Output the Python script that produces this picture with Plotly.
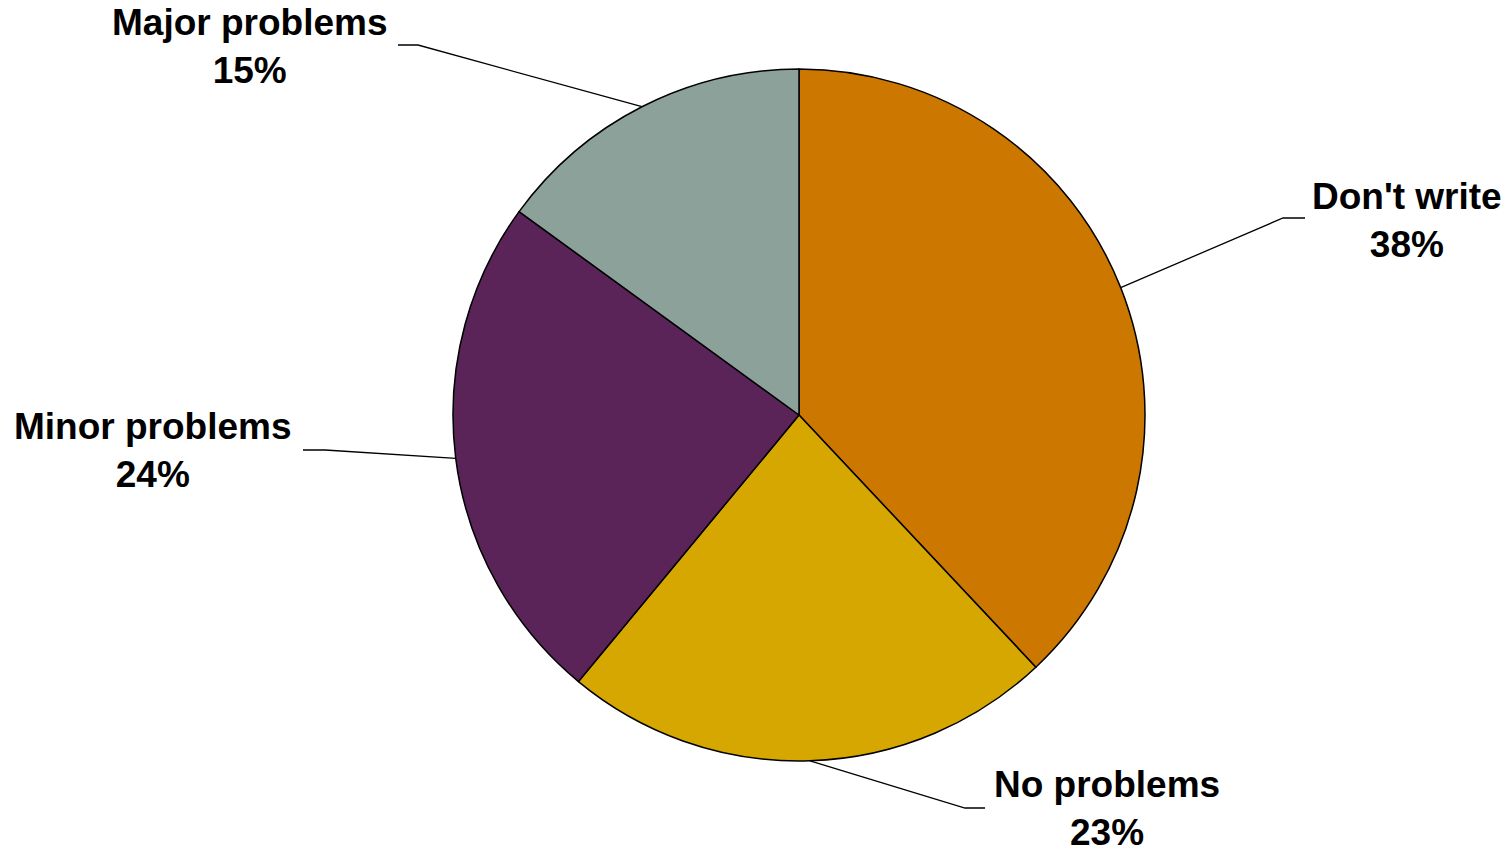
import math
import plotly.graph_objects as go

# Survey responses
categories = ["Don't write", "No problems", "Minor problems", "Major problems"]
shares = [38, 23, 24, 15]
colors = ["#CC7700", "#D5A700", "#5B2459", "#8BA19A"]

W, H = 1506, 848
cx, cy, r = 799, 415, 346  # pie centre and radius in pixels

# Label placement: (text centre x, text centre y, elbow x, elbow end x, elbow y)
label_pos = {
    "Don't write": (1407, 220, 1283, 1305, 218),
    "No problems": (1107, 808, 965, 985, 808),
    "Minor problems": (153, 450, 325, 303, 450),
    "Major problems": (250, 46, 418, 398, 45),
}

fig = go.Figure()
fig.add_trace(go.Pie(
    labels=categories, values=shares, sort=False, direction="clockwise",
    rotation=0, textinfo="none", hoverinfo="label+percent",
    marker=dict(colors=colors, line=dict(color="black", width=1.5)),
    domain=dict(x=[(cx - r) / W, (cx + r) / W],
                y=[(H - cy - r) / H, (H - cy + r) / H]),
    showlegend=False,
))

total = sum(shares)
cum = 0
for cat, v in zip(categories, shares):
    mid = (cum + v / 2) / total * 2 * math.pi
    cum += v
    ex = cx + r * math.sin(mid)
    ey = cy - r * math.cos(mid)
    tx, ty, bx, bx2, by = label_pos[cat]
    fig.add_trace(go.Scatter(
        x=[ex, bx, bx2], y=[ey, by, by], mode="lines",
        line=dict(color="black", width=1.3), hoverinfo="skip",
        showlegend=False,
    ))
    fig.add_annotation(
        x=tx, y=ty, xref="x", yref="y", showarrow=False,
        text=f"{cat}<br>{v}%", align="center",
        xanchor="center", yanchor="middle",
        font=dict(family="Liberation Sans, Arial, sans-serif", size=37,
                  color="black", weight="bold"),
    )

fig.update_layout(
    width=W, height=H, autosize=False,
    margin=dict(l=0, r=0, t=0, b=0),
    paper_bgcolor="white", plot_bgcolor="rgba(0,0,0,0)",
    xaxis=dict(range=[0, W], visible=False, fixedrange=True),
    yaxis=dict(range=[H, 0], visible=False, fixedrange=True),
)

fig.write_html("out.html")
